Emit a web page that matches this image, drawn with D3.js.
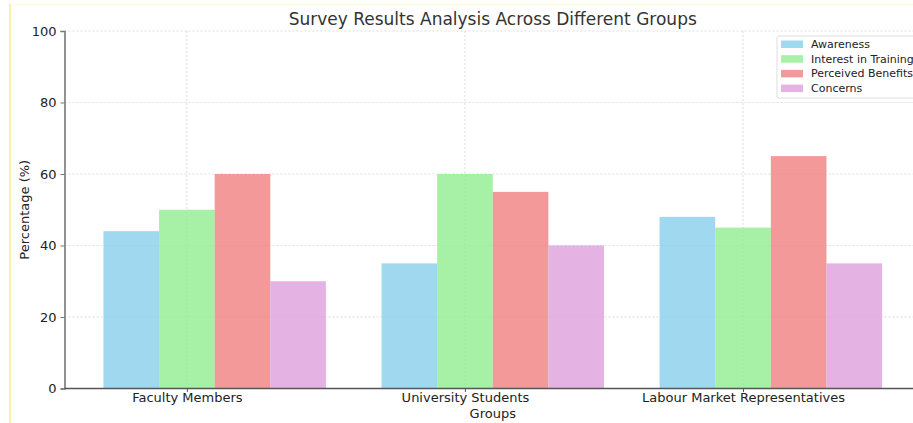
<!DOCTYPE html>
<html>
<head>
<meta charset="utf-8">
<script src="https://cdn.jsdelivr.net/npm/d3@7"></script>
<style>
  html, body { margin: 0; padding: 0; background: #fff; }
  svg { display: block; font-family: "DejaVu Sans", sans-serif; }
</style>
</head>
<body>
<svg id="chart" width="913" height="423"></svg>
<script>
// Survey data: one value per group for each measured dimension
const groups = ["Faculty Members", "University Students", "Labour Market Representatives"];
const seriesNames = ["Awareness", "Interest in Training", "Perceived Benefits", "Concerns"];
const awareness = [44, 35, 48];
const interest = [50, 60, 45];
const benefits = [60, 55, 65];
const concerns = [30, 40, 35];
const yTicks = [0, 20, 40, 60, 80, 100];

const seriesValues = [awareness, interest, benefits, concerns];
const colors = ["#87CEEB", "#90EE90", "#F08080", "#DDA0DD"];
const barOffsets = [-0.2, 0, 0.2, 0.4];   // bar centres relative to each group position
const barWidth = 0.2;

const svg = d3.select("#chart");
const W = 913, H = 423;

// Page frame
svg.append("rect").attr("x", 0).attr("y", 0).attr("width", W).attr("height", H).attr("fill", "#fff");
svg.append("line").attr("x1", 10).attr("x2", W).attr("y1", 4.5).attr("y2", 4.5)
  .attr("stroke", "#fdf9dc").attr("stroke-width", 1.5);
svg.append("line").attr("x1", 10).attr("x2", 10).attr("y1", 4).attr("y2", H)
  .attr("stroke", "#f8f2a8").attr("stroke-width", 2);

const plot = { left: 64.5, right: 921, top: 31, bottom: 388.5 };

const x = d3.scaleLinear().domain([-0.44, 2.64]).range([plot.left, plot.right]);
const y = d3.scaleLinear().domain([0, 100]).range([plot.bottom, plot.top]);

const g = svg.append("g");

// Grid lines (dotted)
g.append("g").selectAll("line").data(yTicks).join("line")
  .attr("x1", plot.left).attr("x2", plot.right)
  .attr("y1", d => y(d)).attr("y2", d => y(d))
  .attr("stroke", "#d4d4d4").attr("stroke-width", 0.8).attr("stroke-dasharray", "2,2");
g.append("g").selectAll("line").data(groups.map((_, i) => i)).join("line")
  .attr("x1", d => x(d)).attr("x2", d => x(d))
  .attr("y1", plot.top).attr("y2", plot.bottom)
  .attr("stroke", "#d4d4d4").attr("stroke-width", 0.8).attr("stroke-dasharray", "2,2");

// Bars
seriesValues.forEach((vals, s) => {
  g.append("g").selectAll("rect").data(vals).join("rect")
    .attr("x", (d, i) => x(i + barOffsets[s] - barWidth / 2))
    .attr("width", x(barWidth) - x(0))
    .attr("y", d => y(d))
    .attr("height", d => y(0) - y(d))
    .attr("fill", colors[s]).attr("fill-opacity", 0.8);
});

// Axes
const yAxis = d3.axisLeft(y).tickValues(yTicks).tickSize(4).tickPadding(4);
const yG = svg.append("g").attr("transform", `translate(${plot.left},0)`).call(yAxis);
yG.select(".domain").attr("stroke", "#777").attr("stroke-width", 1.6);
yG.selectAll(".tick line").attr("stroke", "#777");
yG.selectAll("text").attr("font-size", 13).attr("fill", "#222").attr("font-family", "DejaVu Sans");

const xAxis = d3.axisBottom(x).tickValues([0, 1, 2]).tickFormat(i => groups[i]).tickSize(3.5).tickPadding(0.3);
const xG = svg.append("g").attr("transform", `translate(0,${plot.bottom})`).call(xAxis);
xG.select(".domain").attr("stroke", "#555").attr("stroke-width", 1.3)
  .attr("d", `M${plot.left},0H${plot.right}`);
xG.selectAll(".tick line").attr("stroke", "#555");
xG.selectAll("text").attr("font-size", 13).attr("fill", "#222").attr("font-family", "DejaVu Sans");

// Title and axis labels
svg.append("text").attr("x", (plot.left + plot.right) / 2).attr("y", 25)
  .attr("text-anchor", "middle").attr("font-size", 17).attr("fill", "#333")
  .text("Survey Results Analysis Across Different Groups");
svg.append("text").attr("x", (plot.left + plot.right) / 2).attr("y", 418)
  .attr("text-anchor", "middle").attr("font-size", 13).attr("fill", "#222")
  .text("Groups");
svg.append("text").attr("transform", `translate(29,${(plot.top + plot.bottom) / 2}) rotate(-90)`)
  .attr("text-anchor", "middle").attr("font-size", 13).attr("fill", "#222")
  .text("Percentage (%)");

// Legend
const lg = svg.append("g").attr("transform", "translate(777,36)");
lg.append("rect").attr("x", 0).attr("y", 0).attr("width", 150).attr("height", 62).attr("rx", 2)
  .attr("fill", "#fff").attr("fill-opacity", 0.8).attr("stroke", "#ddd");
seriesNames.forEach((name, s) => {
  const row = lg.append("g").attr("transform", `translate(4,${8 + s * 14.7})`);
  row.append("rect").attr("x", 0).attr("y", -3.5).attr("width", 22).attr("height", 7.5)
    .attr("fill", colors[s]).attr("fill-opacity", 0.8);
  row.append("text").attr("x", 30).attr("y", 4).attr("font-size", 11).attr("fill", "#222").text(name);
});
</script>
</body>
</html>
